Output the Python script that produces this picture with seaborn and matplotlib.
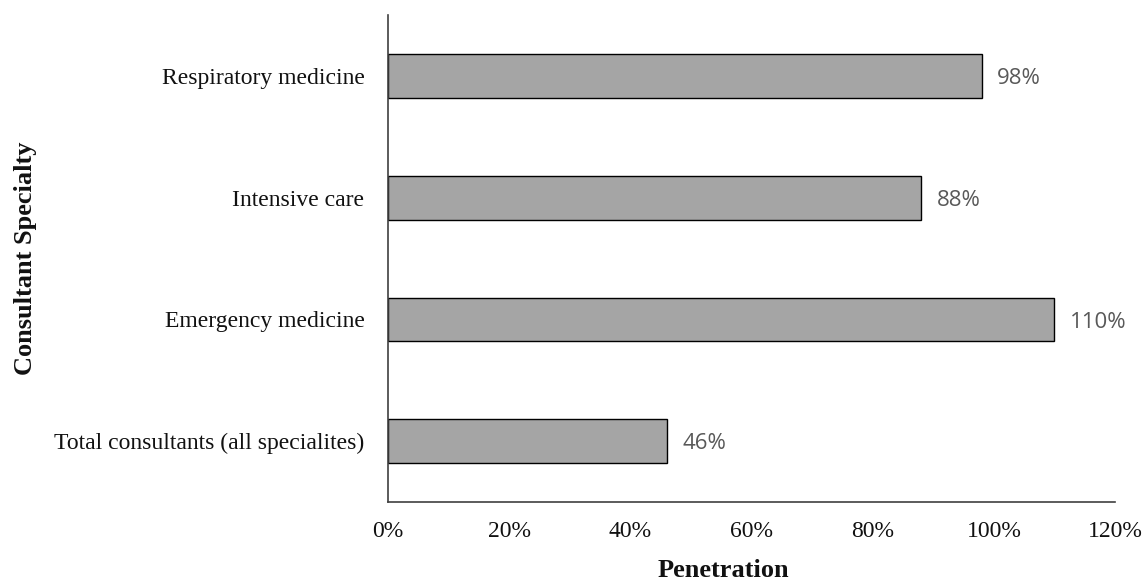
import matplotlib
matplotlib.use("Agg")
import matplotlib.pyplot as plt
import seaborn as sns
import pandas as pd
from matplotlib.ticker import PercentFormatter

specialties = [
    "Respiratory medicine",
    "Intensive care",
    "Emergency medicine",
    "Total consultants (all specialites)",
]
penetration = [0.98, 0.88, 1.10, 0.46]
value_labels = ["98%", "88%", "110%", "46%"]

df = pd.DataFrame({"Specialty": specialties, "Penetration": penetration})

sns.set_theme(style="white")
plt.rcParams["font.family"] = ["Liberation Serif", "DejaVu Serif"]

fig = plt.figure(figsize=(11.46, 5.82), dpi=100)
ax = fig.add_axes([0.3386, 0.1375, 0.6344, 0.8365])

sns.barplot(
    data=df, x="Penetration", y="Specialty", orient="h",
    color="#A5A5A5", edgecolor="black", linewidth=1.0,
    width=0.36, saturation=1, ax=ax,
)

# value annotations to the right of each bar
for patch, lab in zip(ax.patches, value_labels):
    x = patch.get_x() + patch.get_width()
    y = patch.get_y() + patch.get_height() / 2
    ax.annotate(lab, (x, y), xytext=(11, -2), textcoords="offset points",
                ha="left", va="center", fontsize=16, color="#595959",
                family=["Open Sans", "DejaVu Sans"])

ax.set_xlim(0, 1.2)
ax.set_ylim(3.5, -0.5)
ax.set_xticks([0, 0.2, 0.4, 0.6, 0.8, 1.0, 1.2])
ax.xaxis.set_major_formatter(PercentFormatter(1.0, decimals=0))

for s in ["top", "right"]:
    ax.spines[s].set_visible(False)
for s in ["left", "bottom"]:
    ax.spines[s].set_color("#404040")
    ax.spines[s].set_linewidth(1.2)

ax.tick_params(axis="x", length=0, pad=14, labelsize=17, labelcolor="#111111")
ax.tick_params(axis="y", length=0, pad=17, labelsize=17, labelcolor="#111111")

ax.set_xlabel("Penetration", fontsize=19, fontweight="bold", color="#111111")
ax.set_ylabel("Consultant Specialty", fontsize=19, fontweight="bold", color="#111111")
ax.xaxis.set_label_coords(0.461, -0.117)
ax.yaxis.set_label_coords(-0.483, 0.5)

fig.savefig("out.png", dpi=100)
